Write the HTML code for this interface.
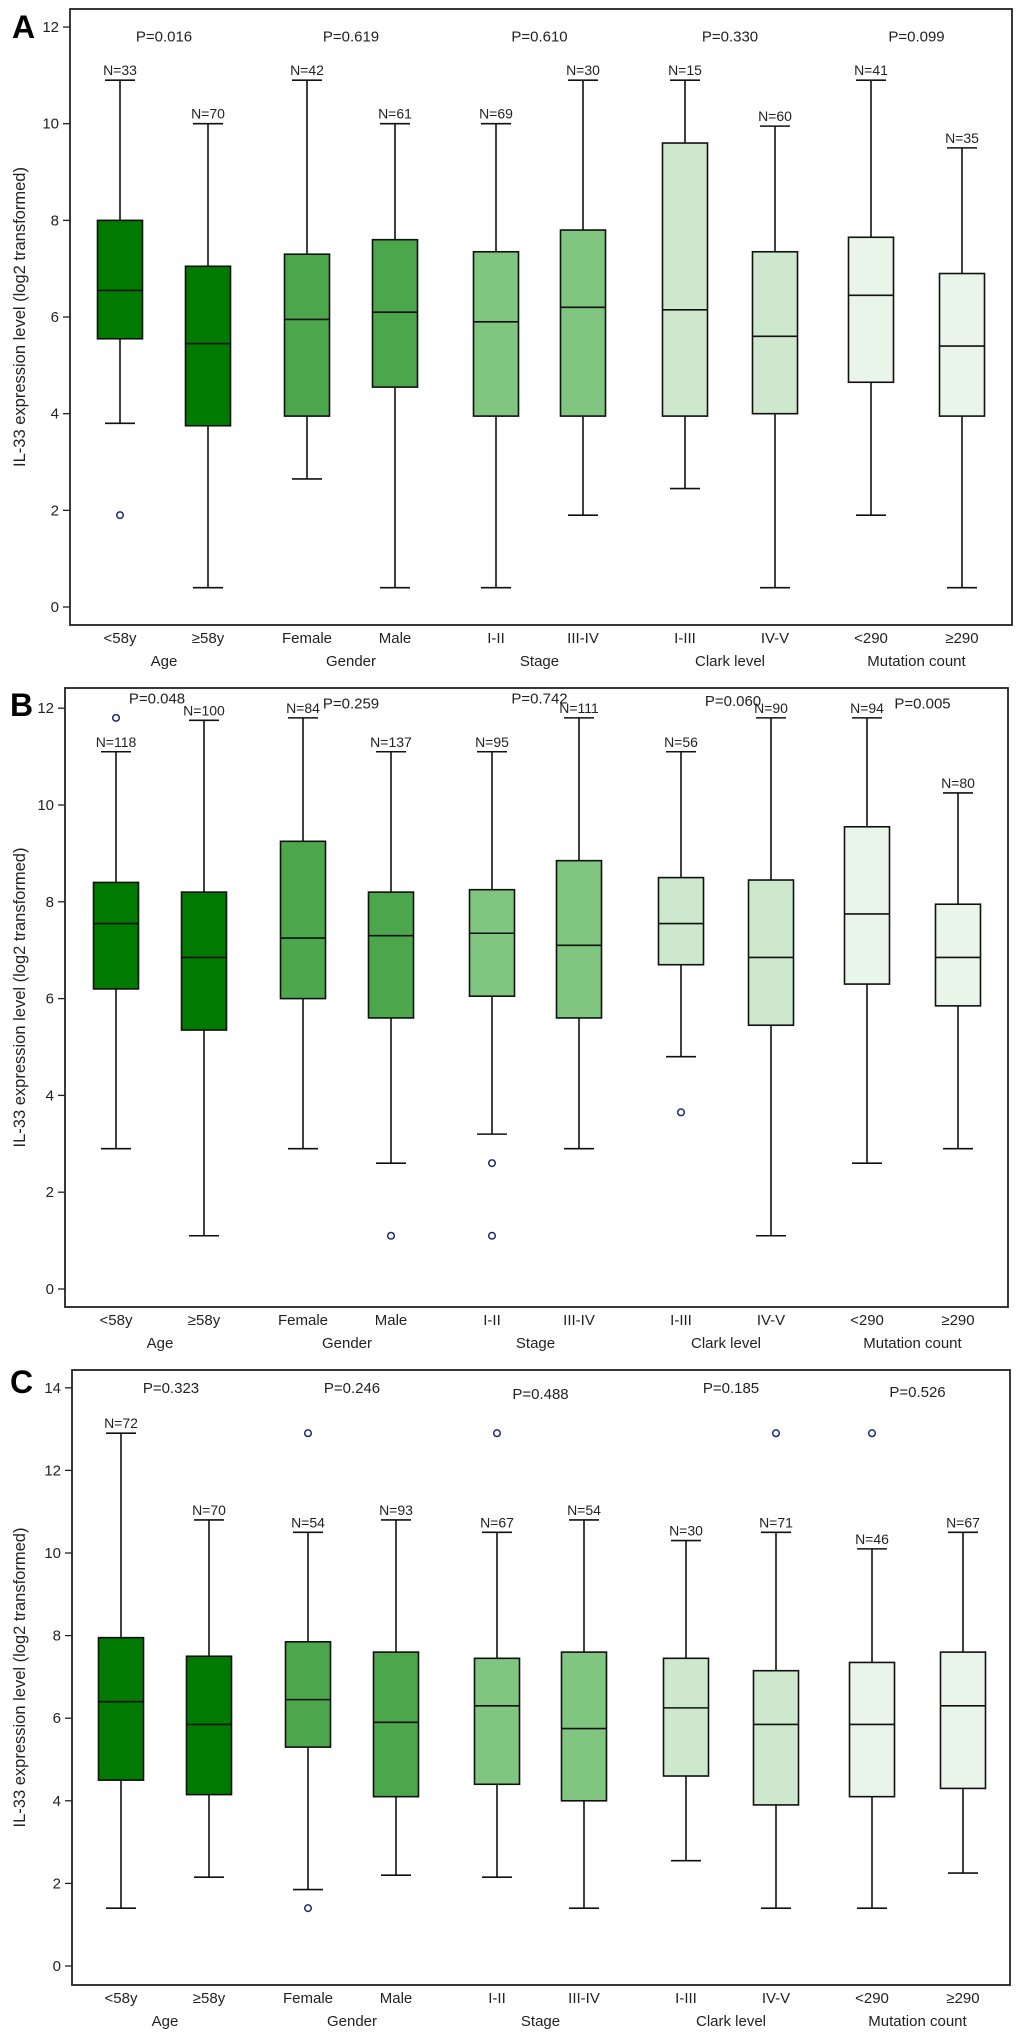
<!DOCTYPE html>
<html><head><meta charset="utf-8"><style>
body{margin:0;background:#fff}
svg{display:block;font-family:"Liberation Sans",sans-serif}
</style></head><body>
<svg id="chart" width="1020" height="2042" viewBox="0 0 1020 2042"></svg>
<script>
const categories=["<58y","≥58y","Female","Male","I-II","III-IV","I-III","IV-V","<290","≥290"];
const groups=["Age","Gender","Stage","Clark level","Mutation count"];
// Panel A
const aHigh=[10.9,10.0,10.9,10.0,10.0,10.9,10.9,9.95,10.9,9.5];
const aQ3=[8.0,7.05,7.3,7.6,7.35,7.8,9.6,7.35,7.65,6.9];
const aMed=[6.55,5.45,5.95,6.1,5.9,6.2,6.15,5.6,6.45,5.4];
const aQ1=[5.55,3.75,3.95,4.55,3.95,3.95,3.95,4.0,4.65,3.95];
const aLow=[3.8,0.4,2.65,0.4,0.4,1.9,2.45,0.4,1.9,0.4];
const aOut=[[1.9],[],[],[],[],[],[],[],[],[]];
const aN=[33,70,42,61,69,30,15,60,41,35];
const aP=["P=0.016","P=0.619","P=0.610","P=0.330","P=0.099"];
const aPy=[11.8,11.8,11.8,11.8,11.8];
// Panel B
const bHigh=[11.1,11.75,11.8,11.1,11.1,11.8,11.1,11.8,11.8,10.25];
const bQ3=[8.4,8.2,9.25,8.2,8.25,8.85,8.5,8.45,9.55,7.95];
const bMed=[7.55,6.85,7.25,7.3,7.35,7.1,7.55,6.85,7.75,6.85];
const bQ1=[6.2,5.35,6.0,5.6,6.05,5.6,6.7,5.45,6.3,5.85];
const bLow=[2.9,1.1,2.9,2.6,3.2,2.9,4.8,1.1,2.6,2.9];
const bOut=[[11.8],[],[],[1.1],[2.6,1.1],[],[3.65],[],[],[]];
const bN=[118,100,84,137,95,111,56,90,94,80];
const bP=["P=0.048","P=0.259","P=0.742","P=0.060","P=0.005"];
const bPy=[12.2,12.1,12.2,12.15,12.1];
// Panel C
const cHigh=[12.9,10.8,10.5,10.8,10.5,10.8,10.3,10.5,10.1,10.5];
const cQ3=[7.95,7.5,7.85,7.6,7.45,7.6,7.45,7.15,7.35,7.6];
const cMed=[6.4,5.85,6.45,5.9,6.3,5.75,6.25,5.85,5.85,6.3];
const cQ1=[4.5,4.15,5.3,4.1,4.4,4.0,4.6,3.9,4.1,4.3];
const cLow=[1.4,2.15,1.85,2.2,2.15,1.4,2.55,1.4,1.4,2.25];
const cOut=[[],[],[12.9,1.4],[],[12.9],[],[],[12.9],[12.9],[]];
const cN=[72,70,54,93,67,54,30,71,46,67];
const cP=["P=0.323","P=0.246","P=0.488","P=0.185","P=0.526"];
const cPy=[14.0,14.0,13.85,14.0,13.9];

const fills=["#007a00","#4ca64c","#80c680","#cde8cd","#e8f5e8"];
const NS="http://www.w3.org/2000/svg";
const svg=document.getElementById('chart');
function mk(tag,attrs,parent,text){const e=document.createElementNS(NS,tag);for(const k in attrs)e.setAttribute(k,attrs[k]);if(text!==undefined)e.textContent=text;(parent||svg).appendChild(e);return e;}

const panels=[
 {id:"a",label:"A",left:70,right:1012,top:9,bottom:625,y0:607,unit:48.33,maxTick:12,catY:643,grpY:666,shift:0,lx:12,ly:38,
  hi:aHigh,q3:aQ3,med:aMed,q1:aQ1,lo:aLow,out:aOut,n:aN,p:aP,py:aPy,pOff:[0,0,0,0,0]},
 {id:"b",label:"B",left:65,right:1008,top:688,bottom:1307,y0:1289,unit:48.4,maxTick:12,catY:1325,grpY:1348,shift:-4,lx:10,ly:716,
  hi:bHigh,q3:bQ3,med:bMed,q1:bQ1,lo:bLow,out:bOut,n:bN,p:bP,py:bPy,pOff:[-3,4,4,7,10]},
 {id:"c",label:"C",left:72,right:1010,top:1370,bottom:1985,y0:1966,unit:41.3,maxTick:14,catY:2003,grpY:2026,shift:1,lx:10,ly:1393,
  hi:cHigh,q3:cQ3,med:cMed,q1:cQ1,lo:cLow,out:cOut,n:cN,p:cP,py:cPy,pOff:[6,0,0,0,0]}
];
const baseX=[120,208,307,395,496,583,685,775,871,962];

panels.forEach(P=>{
 const g=mk('g',{});
 
 
 const y=v=>P.y0-v*P.unit;
 const x=i=>baseX[i]+P.shift;
 const lab=mk('text',{x:P.lx,y:P.ly,'font-size':32,'font-weight':'bold'},g,P.label);
 
 
 const fr=mk('rect',{x:P.left,y:P.top,width:P.right-P.left,height:P.bottom-P.top,fill:'none',stroke:'#222','stroke-width':1.8},g);
 
 
 for(let t=0;t<=P.maxTick;t+=2){
  mk('line',{x1:P.left-7,x2:P.left,y1:y(t),y2:y(t),stroke:'#222','stroke-width':1.3},g);
  const tl=mk('text',{x:P.left-11,y:y(t)+5,'font-size':15,'text-anchor':'end',fill:'#222'},g,String(t));
  
  
 }
 const midY=(P.top+P.bottom)/2;
 const yt=mk('text',{x:0,y:0,'font-size':16.5,'text-anchor':'middle',fill:'#222',transform:`translate(25,${midY}) rotate(-90)`},g,"IL-33 expression level (log2 transformed)");
 
 
 for(let i=0;i<10;i++){
  const cx=x(i),gi=Math.floor(i/2);
  const b=mk('g',{},g);
  
  
  mk('line',{x1:cx,x2:cx,y1:y(P.hi[i]),y2:y(P.lo[i]),stroke:'#111','stroke-width':1.6},b);
  mk('line',{x1:cx-15,x2:cx+15,y1:y(P.hi[i]),y2:y(P.hi[i]),stroke:'#111','stroke-width':1.6},b);
  mk('line',{x1:cx-15,x2:cx+15,y1:y(P.lo[i]),y2:y(P.lo[i]),stroke:'#111','stroke-width':1.6},b);
  mk('rect',{x:cx-22.5,y:y(P.q3[i]),width:45,height:y(P.q1[i])-y(P.q3[i]),fill:fills[gi],stroke:'#111','stroke-width':1.6},b);
  mk('line',{x1:cx-22.5,x2:cx+22.5,y1:y(P.med[i]),y2:y(P.med[i]),stroke:'#111','stroke-width':1.6},b);
  P.out[i].forEach(v=>{
   const o=mk('circle',{cx:cx,cy:y(v),r:3.3,fill:'none',stroke:'#1b2a78','stroke-width':1.5},b);
   
   
  });
  const nl=mk('text',{x:cx,y:y(P.hi[i])-5,'font-size':14,'text-anchor':'middle',fill:'#222'},b,'N='+P.n[i]);
  
  
  const cl=mk('text',{x:cx,y:P.catY,'font-size':15,'text-anchor':'middle',fill:'#222'},g,categories[i]);
  
  
 }
 for(let k=0;k<5;k++){
  const gx=(x(2*k)+x(2*k+1))/2;
  const gl=mk('text',{x:gx,y:P.grpY,'font-size':15,'text-anchor':'middle',fill:'#222'},g,groups[k]);
  
  
  const pl=mk('text',{x:gx+P.pOff[k],y:y(P.py[k])+5,'font-size':15,'text-anchor':'middle',fill:'#222'},g,P.p[k]);
  
  
 }
});
</script>
</body></html>
